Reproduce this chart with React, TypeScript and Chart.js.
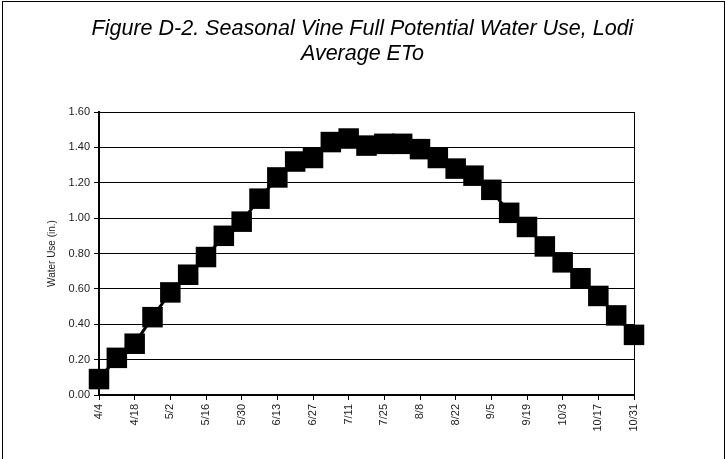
import React, { useEffect, useRef } from 'react';
import { Chart, registerables } from 'chart.js';

Chart.register(...registerables);

const weekLabels = [
  '4/4', '4/11', '4/18', '4/25', '5/2', '5/9', '5/16', '5/23', '5/30',
  '6/6', '6/13', '6/20', '6/27', '7/4', '7/11', '7/18', '7/25', '8/1',
  '8/8', '8/15', '8/22', '8/29', '9/5', '9/12', '9/19', '9/26', '10/3',
  '10/10', '10/17', '10/24', '10/31',
];

const waterUse = [
  0.09, 0.21, 0.29, 0.44, 0.58, 0.68, 0.78, 0.90, 0.98,
  1.11, 1.23, 1.32, 1.34, 1.43, 1.45, 1.41, 1.42, 1.42,
  1.39, 1.34, 1.28, 1.24, 1.16, 1.03, 0.95, 0.84, 0.75,
  0.66, 0.56, 0.45, 0.34,
];

const titleLines = ['Figure D-2. Seasonal Vine Full Potential Water Use, Lodi', 'Average ETo'];
const yAxisTitle = 'Water Use (in.)';
const yMin = 0;
const yMax = 1.6;
const yStep = 0.2;

const FONT = '"Liberation Sans", Arial, Helvetica, sans-serif';

export default function App() {
  const ref = useRef<HTMLCanvasElement>(null);

  useEffect(() => {
    document.body.style.margin = '0';
    if (!ref.current) return;

    const framePlugin = {
      id: 'frame',
      afterDraw(chart: any) {
        const ctx = chart.ctx;
        ctx.save();
        ctx.strokeStyle = '#000';
        ctx.lineWidth = 1;
        ctx.strokeRect(2.5, 1.5, 722, 600);
        ctx.restore();
      },
    };

    const plotBorderPlugin = {
      id: 'plotBorder',
      beforeDatasetsDraw(chart: any) {
        const { right, top, bottom } = chart.chartArea;
        const ctx = chart.ctx;
        ctx.save();
        ctx.strokeStyle = '#000';
        ctx.lineWidth = 1;
        ctx.beginPath();
        const x = Math.round(right) + 0.5;
        ctx.moveTo(x, top);
        ctx.lineTo(x, bottom);
        ctx.stroke();
        ctx.restore();
      },
    };

    const chart = new Chart(ref.current, {
      type: 'line',
      data: {
        labels: weekLabels,
        datasets: [
          {
            data: waterUse,
            borderColor: '#000',
            backgroundColor: '#000',
            pointBackgroundColor: '#000',
            pointBorderColor: '#000',
            borderWidth: 3,
            pointStyle: 'rect',
            pointRadius: 14.5,
            pointBorderWidth: 0,
            tension: 0,
            clip: false as any,
          },
        ],
      },
      options: {
        animation: false,
        responsive: false,
        maintainAspectRatio: false,
        layout: { padding: { left: 0, right: 0, top: 0, bottom: 0 } },
        plugins: {
          legend: { display: false },
          tooltip: { enabled: false },
          title: {
            display: true,
            text: titleLines,
            color: '#000',
            font: { family: FONT, size: 21.5, style: 'italic', weight: 'normal', lineHeight: 25 / 21.5 },
            padding: { top: 17, bottom: 45 },
          },
        },
        scales: {
          x: {
            offset: false,
            grid: {
              drawOnChartArea: false,
              drawTicks: true,
              tickLength: 5,
              lineWidth: 1,
              color: (c: any) => (c.index % 2 === 0 ? '#000' : 'rgba(0,0,0,0)'),
            },
            border: { color: '#000', width: 2 },
            ticks: {
              autoSkip: false,
              maxRotation: 90,
              minRotation: 90,
              padding: 4,
              color: '#222',
              font: { family: FONT, size: 11 },
              callback: (_v: any, i: number) => (i % 2 === 0 ? weekLabels[i] : ''),
            },
            afterFit: (s: any) => {
              s.height = 64;
            },
          },
          y: {
            min: yMin,
            max: yMax,
            grid: { color: '#000', lineWidth: 1, tickLength: 5 },
            border: { color: '#000', width: 2 },
            ticks: {
              stepSize: yStep,
              padding: 4,
              color: '#222',
              font: { family: FONT, size: 11 },
              callback: (v: any) => Number(v).toFixed(2),
            },
            title: {
              display: true,
              text: yAxisTitle,
              color: '#222',
              font: { family: FONT, size: 10 },
              padding: { top: 46, bottom: 0 },
            },
            afterFit: (s: any) => {
              s.width = 99;
            },
          },
          yRight: {
            position: 'right',
            min: yMin,
            max: yMax,
            grid: { display: false, drawOnChartArea: false },
            border: { display: false },
            ticks: { display: false },
            afterFit: (s: any) => {
              s.width = 91;
            },
          },
        },
      },
      plugins: [framePlugin, plotBorderPlugin],
    });

    return () => chart.destroy();
  }, []);

  return <canvas ref={ref} width={725} height={459} style={{ display: 'block' }} />;
}
